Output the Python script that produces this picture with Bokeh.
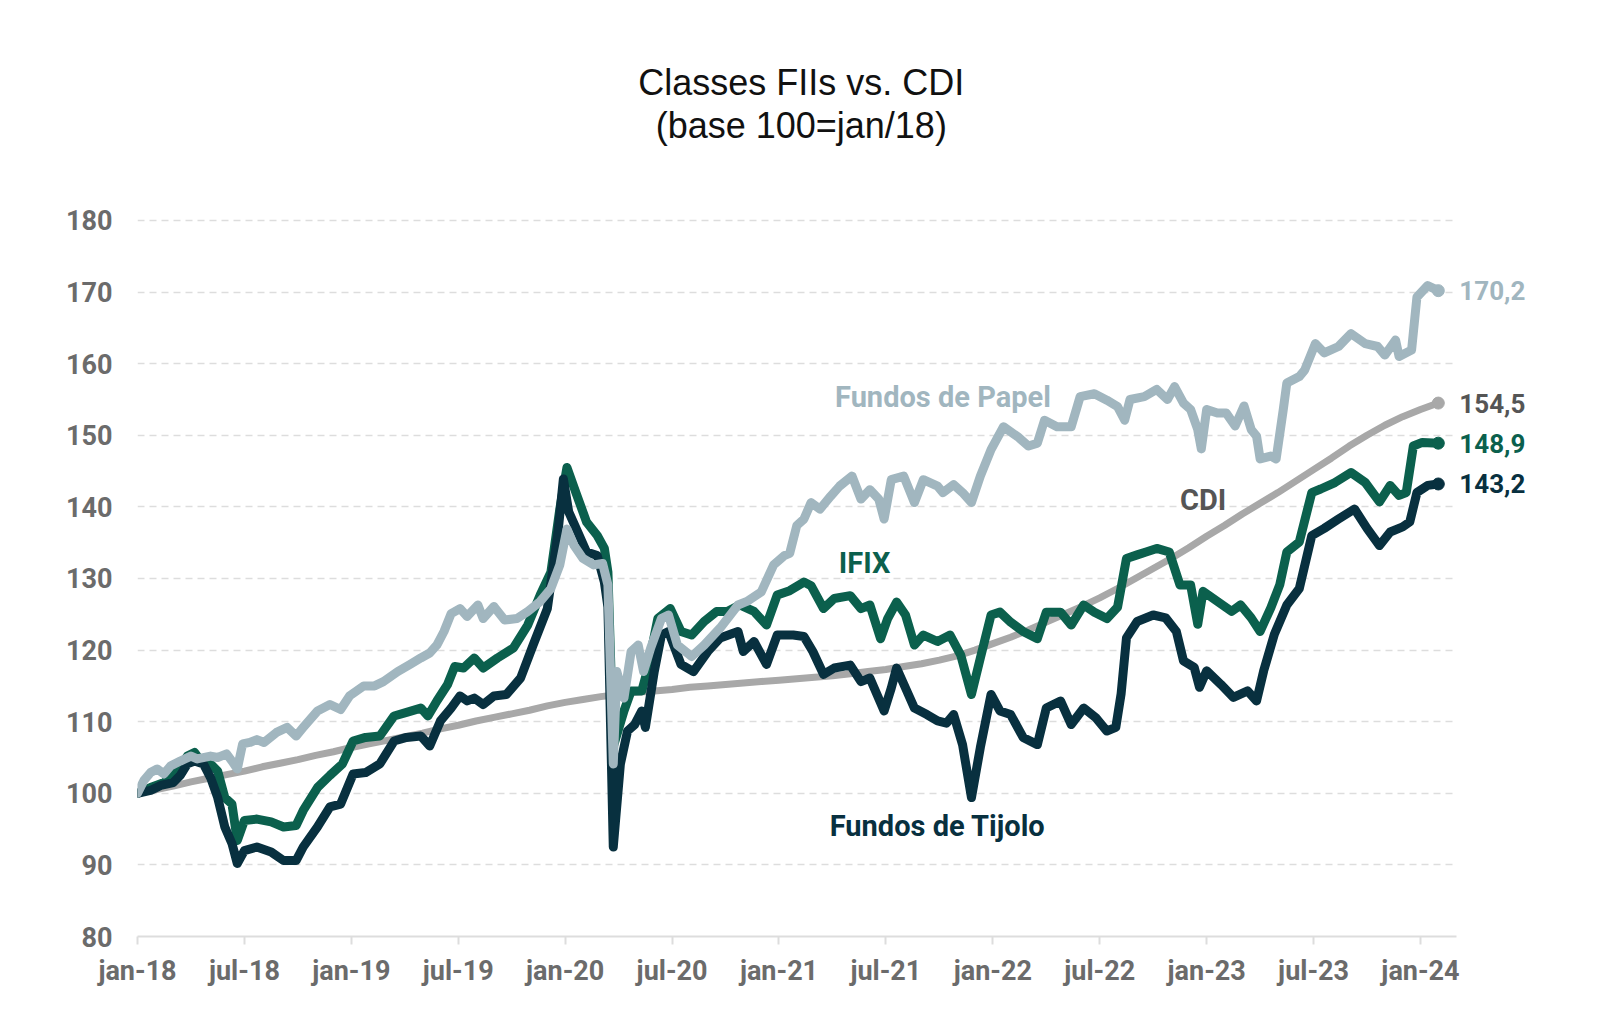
from bokeh.plotting import figure
from bokeh.models import Range1d, Label, FixedTicker, Grid
from bokeh.embed import file_html
from bokeh.resources import INLINE

# ---- data (x = months since jan-18) ----
tick_months = [0, 6, 12, 18, 24, 30, 36, 42, 48, 54, 60, 66, 72]
tick_labels = ["jan-18", "jul-18", "jan-19", "jul-19", "jan-20", "jul-20", "jan-21",
               "jul-21", "jan-22", "jul-22", "jan-23", "jul-23", "jan-24"]
y_ticks = [80, 90, 100, 110, 120, 130, 140, 150, 160, 170, 180]

cdi_v = [100.0, 100.5, 101.0, 101.6, 102.1, 102.6, 103.1, 103.7, 104.2, 104.7, 105.3, 105.8,
         106.4, 106.9, 107.4, 107.9, 108.4, 109.0, 109.5, 110.1, 110.6, 111.1, 111.6, 112.2,
         112.7, 113.1, 113.5, 113.8, 114.1, 114.3, 114.5, 114.8, 115.0, 115.2, 115.4, 115.6,
         115.8, 116.0, 116.2, 116.4, 116.7, 117.0, 117.3, 117.7, 118.1, 118.6, 119.2, 120.0,
         120.9, 121.8, 122.8, 123.9, 125.0, 126.1, 127.3, 128.6, 130.0, 131.4, 132.8, 134.3,
         135.9, 137.4, 139.0, 140.5, 142.0, 143.6, 145.2, 146.8, 148.5, 150.0, 151.4, 152.6,
         153.6, 154.5]
cdi_m = list(range(74))

papel_m = [0, 0.36, 0.73, 1.1, 1.48, 1.85, 2.4, 3.0, 3.35, 4.1, 4.5, 5.0, 5.3, 5.6, 5.9, 6.3,
           6.7, 7.1, 7.8, 8.4, 8.9, 9.3, 10.1, 10.8, 11.4, 11.9, 12.7, 13.3, 13.8, 14.6, 15.3,
           15.9, 16.4, 16.8, 17.2, 17.6, 18.1, 18.5, 19.1, 19.4, 20.0, 20.6, 21.3, 21.9, 22.6,
           23.2, 23.7, 24.1, 24.5, 25.0, 25.6, 26.1, 26.4, 26.7, 26.9, 27.3, 27.7, 28.1, 28.4,
           28.8, 29.4, 29.8, 30.3, 31.1, 31.8, 32.7, 33.7, 34.2, 35.0, 35.7, 36.3, 36.6, 37.0,
           37.4, 37.8, 38.3, 38.9, 39.4, 40.1, 40.6, 41.1, 41.6, 41.9, 42.3, 43.0, 43.6, 44.1,
           44.9, 45.2, 45.8, 46.3, 46.8, 47.3, 47.9, 48.6, 49.4, 50.0, 50.5, 50.9, 51.6, 52.4,
           52.9, 53.7, 54.4, 55.0, 55.4, 55.7, 56.5, 57.2, 57.8, 58.2, 58.7, 59.1, 59.5, 59.7,
           60.0, 60.6, 61.1, 61.6, 62.1, 62.5, 62.8, 63.0, 63.6, 63.9, 64.3, 64.5, 65.2, 65.5,
           66.1, 66.6, 67.4, 68.1, 68.9, 69.6, 70.0, 70.6, 70.8, 71.5, 71.8, 72.4, 73.0]
papel_v = [100.0, 101.8, 102.9, 103.4, 102.7, 103.8, 104.5, 105.2, 104.8, 105.2, 105.0, 105.5,
           104.5, 103.4, 106.9, 107.1, 107.5, 107.1, 108.5, 109.2, 108.0, 109.2, 111.5, 112.4,
           111.7, 113.6, 115.0, 115.0, 115.6, 117.0, 118.0, 118.9, 119.6, 120.7, 122.6, 125.1,
           125.8, 124.7, 126.3, 124.4, 126.1, 124.2, 124.4, 125.4, 126.8, 128.6, 131.9, 136.9,
           134.6, 132.8, 131.9, 132.1, 129.1, 104.1, 117.0, 113.3, 119.8, 120.7, 117.0, 120.3,
           124.4, 124.9, 120.7, 119.1, 120.7, 123.1, 126.3, 126.8, 128.1, 131.9, 133.2, 133.5,
           137.4, 138.3, 140.6, 139.7, 141.5, 142.9, 144.3, 141.1, 142.4, 141.1, 138.3, 143.8,
           144.3, 140.6, 143.8, 142.9, 142.0, 143.1, 142.0, 140.6, 144.3, 148.0, 151.2, 149.8,
           148.5, 148.9, 152.1, 151.2, 151.2, 155.4, 155.8, 154.9, 154.0, 152.1, 155.0, 155.4,
           156.4, 155.0, 156.8, 154.5, 153.6, 150.8, 148.1, 153.6, 153.1, 153.1, 151.3, 154.1,
           150.8, 149.9, 146.7, 147.1, 146.7, 153.6, 157.3, 158.2, 159.1, 162.8, 161.5, 162.4,
           164.2, 162.8, 162.4, 161.2, 163.3, 161.0, 161.9, 169.3, 170.9, 170.2]

ifix_m = [0, 0.73, 1.5, 2.2, 2.8, 3.2, 3.55, 4.1, 4.5, 4.9, 5.3, 5.6, 6.0, 6.7, 7.5, 8.2, 8.9,
          9.3, 10.1, 10.8, 11.5, 12.1, 12.8, 13.6, 14.4, 15.1, 15.9, 16.3, 16.8, 17.4, 17.8,
          18.3, 18.9, 19.4, 20.2, 21.1, 21.9, 22.6, 23.2, 23.7, 24.1, 24.6, 25.2, 25.8, 26.2,
          26.4, 26.7, 27.3, 27.7, 28.3, 28.6, 29.2, 29.9, 30.5, 31.1, 31.8, 32.5, 33.1, 33.8,
          34.6, 35.3, 35.9, 36.6, 37.4, 37.8, 38.5, 39.1, 40.0, 40.6, 41.1, 41.7, 42.1, 42.6,
          43.1, 43.6, 44.1, 44.9, 45.6, 46.2, 46.8, 47.3, 47.9, 48.4, 49.0, 49.7, 50.5, 51.0,
          51.8, 52.4, 53.1, 53.7, 54.4, 55.0, 55.5, 56.1, 56.6, 57.2, 57.9, 58.5, 59.1, 59.5,
          59.8, 60.6, 61.4, 61.9, 62.5, 63.0, 63.6, 64.1, 64.5, 65.2, 65.9, 66.4, 67.2, 68.1,
          68.9, 69.7, 70.3, 70.8, 71.2, 71.6, 72.1, 73.0]
ifix_v = [100.0, 100.8, 101.5, 103.1, 105.2, 105.7, 104.5, 104.1, 103.1, 99.4, 98.5, 93.4,
          96.2, 96.4, 96.0, 95.3, 95.5, 97.6, 100.8, 102.5, 104.1, 107.3, 107.8, 108.0, 110.8,
          111.3, 111.9, 110.8, 112.9, 115.2, 117.7, 117.5, 118.9, 117.5, 118.9, 120.3, 123.5,
          127.7, 130.9, 139.7, 145.5, 142.0, 137.9, 136.0, 134.2, 130.9, 106.5, 111.5, 114.3,
          114.3, 117.0, 124.4, 125.8, 122.6, 122.1, 124.0, 125.4, 125.4, 126.3, 125.4, 123.5,
          127.7, 128.3, 129.5, 129.0, 125.8, 127.2, 127.6, 125.8, 126.3, 121.6, 124.4, 126.7,
          124.9, 120.7, 122.1, 121.2, 122.1, 119.3, 113.8, 118.9, 124.9, 125.3, 123.9, 122.6,
          121.6, 125.3, 125.3, 123.5, 126.3, 125.3, 124.4, 126.0, 132.8, 133.3, 133.7, 134.2,
          133.7, 129.1, 129.1, 123.6, 128.2, 126.8, 125.4, 126.3, 124.5, 122.6, 125.9, 129.1,
          133.7, 135.1, 142.0, 142.5, 143.4, 144.8, 143.4, 140.7, 143.0, 141.6, 142.0, 148.5,
          149.0, 148.9]

tijolo_m = [0, 0.73, 1.3, 2.0, 2.4, 2.8, 3.2, 3.7, 4.1, 4.5, 4.9, 5.3, 5.6, 6.0, 6.7, 7.5, 8.2,
            8.9, 9.3, 10.1, 10.8, 11.4, 12.1, 12.8, 13.6, 14.4, 15.1, 15.9, 16.4, 17.0, 17.6,
            18.1, 18.5, 18.9, 19.4, 20.0, 20.7, 21.5, 22.2, 23.0, 23.6, 23.9, 24.2, 24.7, 25.2,
            25.8, 26.2, 26.4, 26.7, 27.1, 27.5, 27.9, 28.3, 28.5, 29.0, 29.4, 29.8, 30.5, 31.2,
            32.0, 32.7, 33.7, 34.0, 34.6, 35.3, 35.9, 36.8, 37.4, 37.9, 38.5, 39.1, 40.0, 40.6,
            41.1, 41.9, 42.3, 42.6, 43.1, 43.6, 44.3, 44.9, 45.4, 45.8, 46.3, 46.8, 47.3, 47.9,
            48.4, 49.0, 49.7, 50.5, 51.0, 51.8, 52.4, 53.1, 53.8, 54.4, 54.9, 55.2, 55.5, 56.1,
            57.0, 57.7, 58.3, 58.7, 59.3, 59.6, 60.0, 60.8, 61.5, 62.3, 62.8, 63.2, 63.8, 64.5,
            65.2, 65.9, 66.6, 67.4, 68.3, 69.0, 69.7, 70.3, 71.0, 71.4, 71.8, 72.4, 73.0]
tijolo_v = [100.0, 100.4, 101.1, 101.5, 102.5, 104.1, 104.5, 104.1, 102.2, 99.4, 95.3, 93.0,
            90.2, 92.0, 92.5, 91.8, 90.6, 90.6, 92.5, 95.3, 98.1, 98.5, 102.7, 102.9, 104.1,
            107.3, 107.8, 108.0, 106.6, 110.1, 111.9, 113.6, 112.9, 113.3, 112.4, 113.6, 113.8,
            116.1, 120.7, 125.8, 136.5, 143.9, 139.3, 136.5, 133.7, 133.2, 129.5, 126.0, 92.5,
            104.1, 108.7, 109.6, 111.5, 109.2, 117.0, 122.1, 122.6, 118.0, 117.0, 119.8, 121.7,
            122.6, 119.8, 121.2, 118.0, 122.1, 122.1, 121.9, 119.8, 116.6, 117.5, 117.9, 115.6,
            116.1, 111.5, 114.7, 117.5, 114.7, 111.9, 111.0, 110.1, 109.8, 111.0, 106.8, 99.4,
            106.4, 113.8, 111.5, 111.0, 107.8, 106.8, 111.9, 112.9, 109.6, 111.9, 110.5, 108.7,
            109.2, 113.9, 121.7, 124.0, 124.9, 124.5, 122.6, 118.5, 117.6, 114.8, 117.1, 115.2,
            113.4, 114.3, 112.9, 117.1, 122.2, 126.3, 128.6, 136.0, 137.0, 138.3, 139.7, 137.0,
            134.6, 136.5, 137.2, 137.9, 142.0, 143.0, 143.2]

C_PAPEL = "#a1b6bf"
C_IFIX = "#0b604d"
C_TIJOLO = "#08303f"
C_CDI = "#a8a8a8"
C_CDI_TXT = "#555555"
C_TICK = "#6b6b6b"

# frame spans to the right edge / near the top so that titles and end labels are not clipped
p = figure(width=1588, height=1020, output_backend="svg", toolbar_location=None,
           x_range=Range1d(0, 80.98), y_range=Range1d(80, 207.93),
           min_border_left=137, min_border_right=8, min_border_top=20, min_border_bottom=84)
p.outline_line_color = None
p.background_fill_color = "white"
p.border_fill_color = "white"

# axes
p.xaxis.ticker = FixedTicker(ticks=tick_months)
p.xaxis.bounds = (0, 74)
p.xaxis.major_label_overrides = {m: l for m, l in zip(tick_months, tick_labels)}
p.xaxis.axis_line_color = "#dddddd"
p.xaxis.axis_line_width = 2
p.xaxis.major_tick_line_color = "#dddddd"
p.xaxis.major_tick_line_width = 2
p.xaxis.major_tick_out = 8
p.xaxis.major_tick_in = 0
p.xaxis.minor_tick_line_color = None
p.xaxis.major_label_standoff = 10
p.xaxis.major_label_text_font = "Roboto"
p.xaxis.major_label_text_font_style = "bold"
p.xaxis.major_label_text_font_size = "27px"
p.xaxis.major_label_text_color = C_TICK

p.yaxis.ticker = FixedTicker(ticks=y_ticks)
p.yaxis.axis_line_color = None
p.yaxis.major_tick_line_color = None
p.yaxis.minor_tick_line_color = None
p.yaxis.major_label_standoff = 19
p.yaxis.major_label_text_font = "Roboto"
p.yaxis.major_label_text_font_style = "bold"
p.yaxis.major_label_text_font_size = "27px"
p.yaxis.major_label_text_color = C_TICK

p.xgrid.grid_line_color = None
p.ygrid.grid_line_color = "#dddddd"
p.ygrid.grid_line_width = 1.5
p.ygrid.grid_line_dash = "7 5"
if "cross_bounds" in Grid.properties():
    p.ygrid.cross_bounds = (0, 73.8)

# series
p.line(cdi_m, cdi_v, line_color=C_CDI, line_width=7, line_cap="round", line_join="round")
p.line(ifix_m, ifix_v, line_color=C_IFIX, line_width=9, line_cap="round", line_join="round")
p.line(tijolo_m, tijolo_v, line_color=C_TIJOLO, line_width=9, line_cap="round", line_join="round")
p.line(papel_m, papel_v, line_color=C_PAPEL, line_width=9, line_cap="round", line_join="round")

ends = [(papel_m, papel_v, C_PAPEL, C_PAPEL), (cdi_m, cdi_v, C_CDI, C_CDI_TXT),
        (ifix_m, ifix_v, C_IFIX, C_IFIX), (tijolo_m, tijolo_v, C_TIJOLO, C_TIJOLO)]
for ms, vs, dot_col, txt_col in ends:
    p.scatter([ms[-1]], [vs[-1]], size=12, color=dot_col)
    p.add_layout(Label(x=ms[-1], y=vs[-1], x_offset=21, text=f"{vs[-1]:.1f}".replace(".", ","),
                       text_baseline="middle", text_align="left", text_font="Roboto",
                       text_font_style="bold", text_font_size="26px", text_color=txt_col))

# series annotations
annots = [("Fundos de Papel", 45.2, 155.3, C_PAPEL), ("IFIX", 40.8, 132.1, C_IFIX),
          ("Fundos de Tijolo", 44.9, 95.4, C_TIJOLO), ("CDI", 59.8, 140.9, C_CDI_TXT)]
for t, x, y, col in annots:
    p.add_layout(Label(x=x, y=y, text=t, text_align="center", text_baseline="middle",
                       text_font="Roboto", text_font_style="bold", text_font_size="29px",
                       text_color=col))

# title
p.add_layout(Label(x=37.25, y=199.3, text="Classes FIIs vs. CDI", text_align="center",
                   text_baseline="middle", text_font="Liberation Sans", text_font_size="36px",
                   text_color="#111111"))
p.add_layout(Label(x=37.25, y=193.3, text="(base 100=jan/18)", text_align="center",
                   text_baseline="middle", text_font="Liberation Sans", text_font_size="36px",
                   text_color="#111111"))

open("out.html", "w").write(file_html(p, INLINE))
